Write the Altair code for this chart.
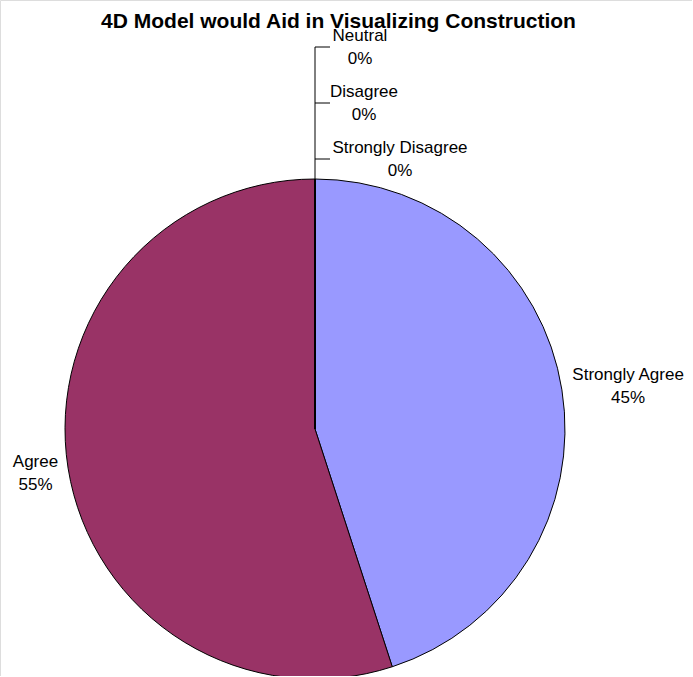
import altair as alt
import pandas as pd
import math

# Survey responses (percent of respondents)
categories = ["Strongly Agree", "Agree", "Strongly Disagree", "Disagree", "Neutral"]
percents = [45, 55, 0, 0, 0]
colors = ["#9999FF", "#993366", "#FFFFCC", "#CCFFFF", "#660066"]
title_text = "4D Model would Aid in Visualizing Construction"

W, H = 692, 676
CX, CY, R = 315, 429, 250
FONT = "Liberation Sans"
LINE_H = 23

df = pd.DataFrame({
    "category": categories,
    "pct": percents,
    "order": list(range(len(categories))),
})
df["label"] = df["category"] + "\n" + df["pct"].astype(str) + "%"

base = alt.Chart(df)

pie = base.mark_arc(outerRadius=R, stroke="black", strokeWidth=1).encode(
    theta=alt.Theta("pct:Q", stack=True),
    order=alt.Order("order:Q"),
    color=alt.Color("category:N", scale=alt.Scale(domain=categories, range=colors), legend=None),
    x=alt.value(CX),
    y=alt.value(CY),
)

text_style = dict(font=FONT, fontSize=17, lineBreak="\n", lineHeight=LINE_H,
                  align="center", baseline="middle", color="black")

# mid-angle of each slice, computed before any filtering
angled = base.transform_window(
    cum="sum(pct)", sort=[alt.SortField("order")], frame=[None, 0]
).transform_calculate(mid="datum.cum - datum.pct / 2")

theta_mid = alt.Theta("mid:Q", scale=alt.Scale(domain=[0, 100], range=[0, 2 * math.pi]))

right_labels = angled.transform_filter("datum.category == 'Strongly Agree'").mark_text(
    radius=317, dy=-4.5, **text_style
).encode(theta=theta_mid, text="label:N", x=alt.value(CX), y=alt.value(CY))

left_labels = angled.transform_filter("datum.category == 'Agree'").mark_text(
    radius=283, dy=-11, **text_style
).encode(theta=theta_mid, text="label:N", x=alt.value(CX), y=alt.value(CY))

# empty slices sit at twelve o'clock; their labels are stacked above the pie
zero = base.transform_filter("datum.pct == 0").transform_window(
    idx="row_number()", sort=[alt.SortField("order")]
).transform_calculate(
    ty=f"{CY - R - 20} - 56 * (datum.idx - 1)",
    tx=f"{CX + 17} + length(datum.category) * 4",
)

leader = alt.Chart(df).transform_filter("datum.pct == 0").transform_aggregate(
    n="count()"
).transform_calculate(
    ytop=f"{CY - R - 20} - 56 * (datum.n - 1)", ybot=f"{CY - R}"
).mark_rule(color="black", strokeWidth=1).encode(
    x=alt.value(CX),
    y=alt.Y("ytop:Q", scale=None),
    y2=alt.Y2("ybot:Q"),
)

ticks = zero.mark_rule(color="black", strokeWidth=1).encode(
    x=alt.value(CX), x2=alt.value(CX + 15), y=alt.Y("ty:Q", scale=None)
)

zero_labels = zero.mark_text(dy=-LINE_H / 2, **text_style).encode(
    x=alt.X("tx:Q", scale=None),
    y=alt.Y("ty:Q", scale=None),
    text="label:N",
)

title = alt.Chart(pd.DataFrame({"t": [title_text]})).mark_text(
    font=FONT, fontSize=21, fontWeight="bold", align="center",
    baseline="alphabetic", color="black"
).encode(x=alt.value(338.5), y=alt.value(28), text="t:N")

chart = alt.layer(pie, leader, ticks, right_labels, left_labels, zero_labels, title).properties(
    width=W, height=H, padding=0, autosize=alt.AutoSizeParams(type="none")
).configure_view(stroke=None).configure(background="white")

chart.save("out.html", embed_options={"renderer": "svg", "actions": False})
